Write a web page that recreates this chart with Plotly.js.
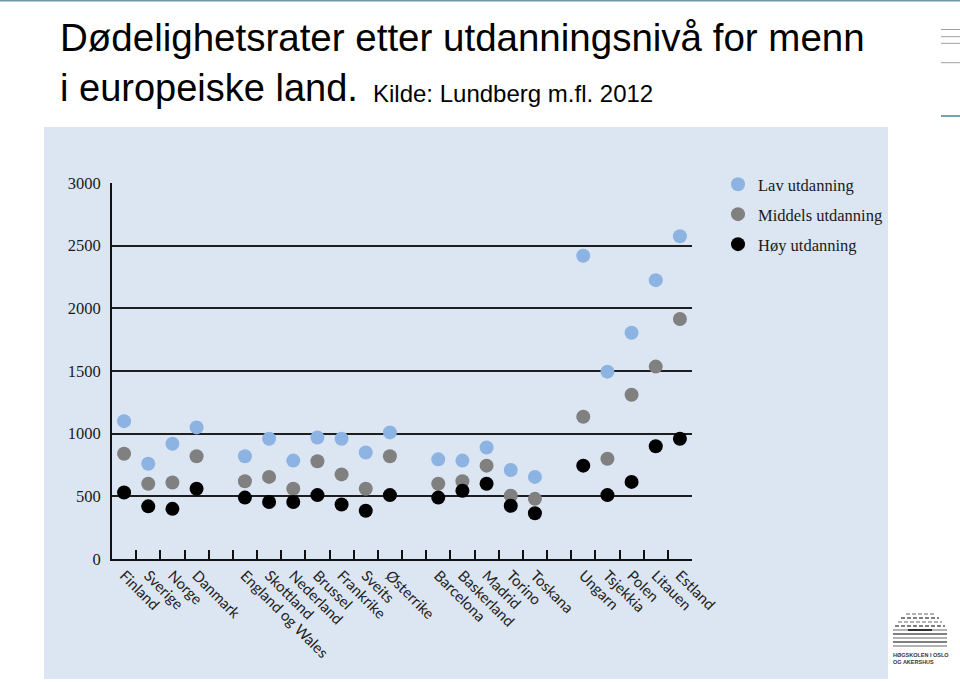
<!DOCTYPE html>
<html><head><meta charset="utf-8">
<script src="https://cdn.plot.ly/plotly-3.0.1.min.js"></script>
<style>html,body{margin:0;padding:0;background:#fff}#chart{width:960px;height:682px}</style>
</head><body><div id="chart"></div>
<script>
// Category order on the x axis (blank entries are the gaps between country groups)
const categoryOrder = ["Finland","Sverige","Norge","Danmark"," ","England og Wales","Skottland","Nederland","Brussel","Frankrike","Sveits","Østerrike","  ","Barcelona","Baskerland","Madrid","Torino","Toskana","   ","Ungarn","Tsjekkia","Polen","Litauen","Estland"];
const countries = ["Finland","Sverige","Norge","Danmark","England og Wales","Skottland","Nederland","Brussel","Frankrike","Sveits","Østerrike","Barcelona","Baskerland","Madrid","Torino","Toskana","Ungarn","Tsjekkia","Polen","Litauen","Estland"];
const lav     = [1100, 760, 920, 1050, 820, 960, 785, 970, 960, 850, 1010, 795, 785, 890, 710, 655, 2420, 1495, 1805, 2225, 2575];
const middels = [840, 600, 610, 820, 620, 655, 560, 780, 675, 560, 820, 600, 620, 745, 505, 480, 1135, 800, 1310, 1535, 1915];
const hoy     = [530, 420, 400, 560, 490, 455, 455, 510, 435, 385, 510, 490, 545, 600, 425, 365, 745, 510, 615, 900, 960];
const seriesNames = ["Lav utdanning","Middels utdanning","Høy utdanning"];
const yTickVals = [0, 500, 1000, 1500, 2000, 2500, 3000];

const W = 960, H = 682;
const px = x => x / W, py = y => (H - y) / H;

const colors = ["#8db3e2", "#808080", "#000000"];
const series = [lav, middels, hoy];
const traces = series.map((vals, i) => ({
  type: "scatter", mode: "markers", x: countries, y: vals, name: seriesNames[i],
  legendgroup: "g" + i,
  marker: {size: 14, color: colors[i], line: {width: 0}},
  hoverinfo: "x+y"
}));

const shapes = [
  {type: "rect", xref: "paper", yref: "paper", x0: px(44), x1: px(888), y0: py(679), y1: py(127), fillcolor: "#dce6f2", line: {width: 0}, layer: "below"},
  {type: "line", xref: "paper", yref: "paper", x0: 0, x1: 1, y0: py(0.8), y1: py(0.8), line: {color: "#6d97ab", width: 1.6}},
  {type: "line", xref: "paper", yref: "paper", x0: px(941), x1: 1, y0: py(29.5), y1: py(29.5), line: {color: "#a0a0a0", width: 1}},
  {type: "line", xref: "paper", yref: "paper", x0: px(941), x1: 1, y0: py(36.7), y1: py(36.7), line: {color: "#a0a0a0", width: 1}},
  {type: "line", xref: "paper", yref: "paper", x0: px(941), x1: 1, y0: py(43.3), y1: py(43.3), line: {color: "#a0a0a0", width: 1}},
  {type: "line", xref: "paper", yref: "paper", x0: px(941), x1: 1, y0: py(62.7), y1: py(62.7), line: {color: "#a0a0a0", width: 1}},
  {type: "line", xref: "paper", yref: "paper", x0: px(941), x1: 1, y0: py(116), y1: py(116), line: {color: "#4a8595", width: 1.5}}
];
// logo stripes
const logoRows = [[906,934,614],[901,939,618],[898,942,622],[895,945,626],[893,947,630],[893,947,634],[893,947,638],[893,947,642],[893,947,646]];
logoRows.forEach((r, i) => {
  shapes.push({type: "line", xref: "paper", yref: "paper", x0: px(r[0]), x1: px(r[1]), y0: py(r[2]), y1: py(r[2]),
    line: {color: i % 2 ? "#555" : "#999", width: 1.6, dash: i < 4 ? "4px,2px" : "solid"}});
});
shapes.push({type: "line", xref: "paper", yref: "paper", x0: px(908), x1: px(932), y0: py(630), y1: py(630), line: {color: "#222", width: 1.8}});

const annotations = [
  {xref: "paper", yref: "paper", x: px(58), y: py(38), xanchor: "left", yanchor: "middle", showarrow: false,
   text: "Dødelighetsrater etter utdanningsnivå for menn", font: {family: "Liberation Sans, Arial, sans-serif", size: 38.5, color: "#000"}},
  {xref: "paper", yref: "paper", x: px(58), y: py(88), xanchor: "left", yanchor: "middle", showarrow: false,
   text: "i europeiske land.", font: {family: "Liberation Sans, Arial, sans-serif", size: 38, color: "#000"}},
  {xref: "paper", yref: "paper", x: px(371), y: py(93), xanchor: "left", yanchor: "middle", showarrow: false,
   text: "Kilde: Lundberg m.fl. 2012", font: {family: "Liberation Sans, Arial, sans-serif", size: 24, color: "#000"}},
  {xref: "paper", yref: "paper", x: px(891), y: py(655), xanchor: "left", yanchor: "middle", showarrow: false,
   text: "<b>HØGSKOLEN I OSLO</b>", font: {family: "Liberation Sans, Arial, sans-serif", size: 5.5, color: "#333"}},
  {xref: "paper", yref: "paper", x: px(891), y: py(662), xanchor: "left", yanchor: "middle", showarrow: false,
   text: "<b>OG AKERSHUS</b>", font: {family: "Liberation Sans, Arial, sans-serif", size: 5.5, color: "#333"}}
];

const layout = {
  width: W, height: H,
  margin: {l: 0, r: 0, t: 0, b: 0},
  paper_bgcolor: "#ffffff", plot_bgcolor: "rgba(0,0,0,0)",
  showlegend: true,
  legend: {x: px(718), y: py(167), xanchor: "left", yanchor: "top", bgcolor: "rgba(0,0,0,0)",
    traceorder: "grouped", tracegroupgap: 5.5,
    font: {family: "Liberation Serif, serif", size: 16.5, color: "#1a1a1a"}},
  xaxis: {
    domain: [px(112), px(692)], type: "category", categoryorder: "array", categoryarray: categoryOrder,
    range: [-0.5, categoryOrder.length - 0.5],
    showgrid: false, zeroline: false, showline: true, linecolor: "#111", linewidth: 2,
    ticks: "inside", tickson: "boundaries", ticklen: 9, tickwidth: 2, tickcolor: "#111",
    tickangle: 45, tickfont: {family: "Lato, sans-serif", size: 15, color: "#222"},
    fixedrange: true
  },
  yaxis: {
    domain: [py(559), py(183)], range: [0, 3000],
    tickvals: yTickVals, ticktext: yTickVals.map(String),
    showgrid: true, gridcolor: "#1e1e1e", gridwidth: 1.8, zeroline: false,
    showline: true, linecolor: "#111", linewidth: 2,
    ticks: "", ticklabelstandoff: 6,
    tickfont: {family: "Liberation Serif, serif", size: 16.5, color: "#1a1a1a"},
    fixedrange: true
  },
  shapes: shapes, annotations: annotations
};

Plotly.newPlot("chart", traces, layout, {displayModeBar: false, staticPlot: true});
</script>
</body></html>
